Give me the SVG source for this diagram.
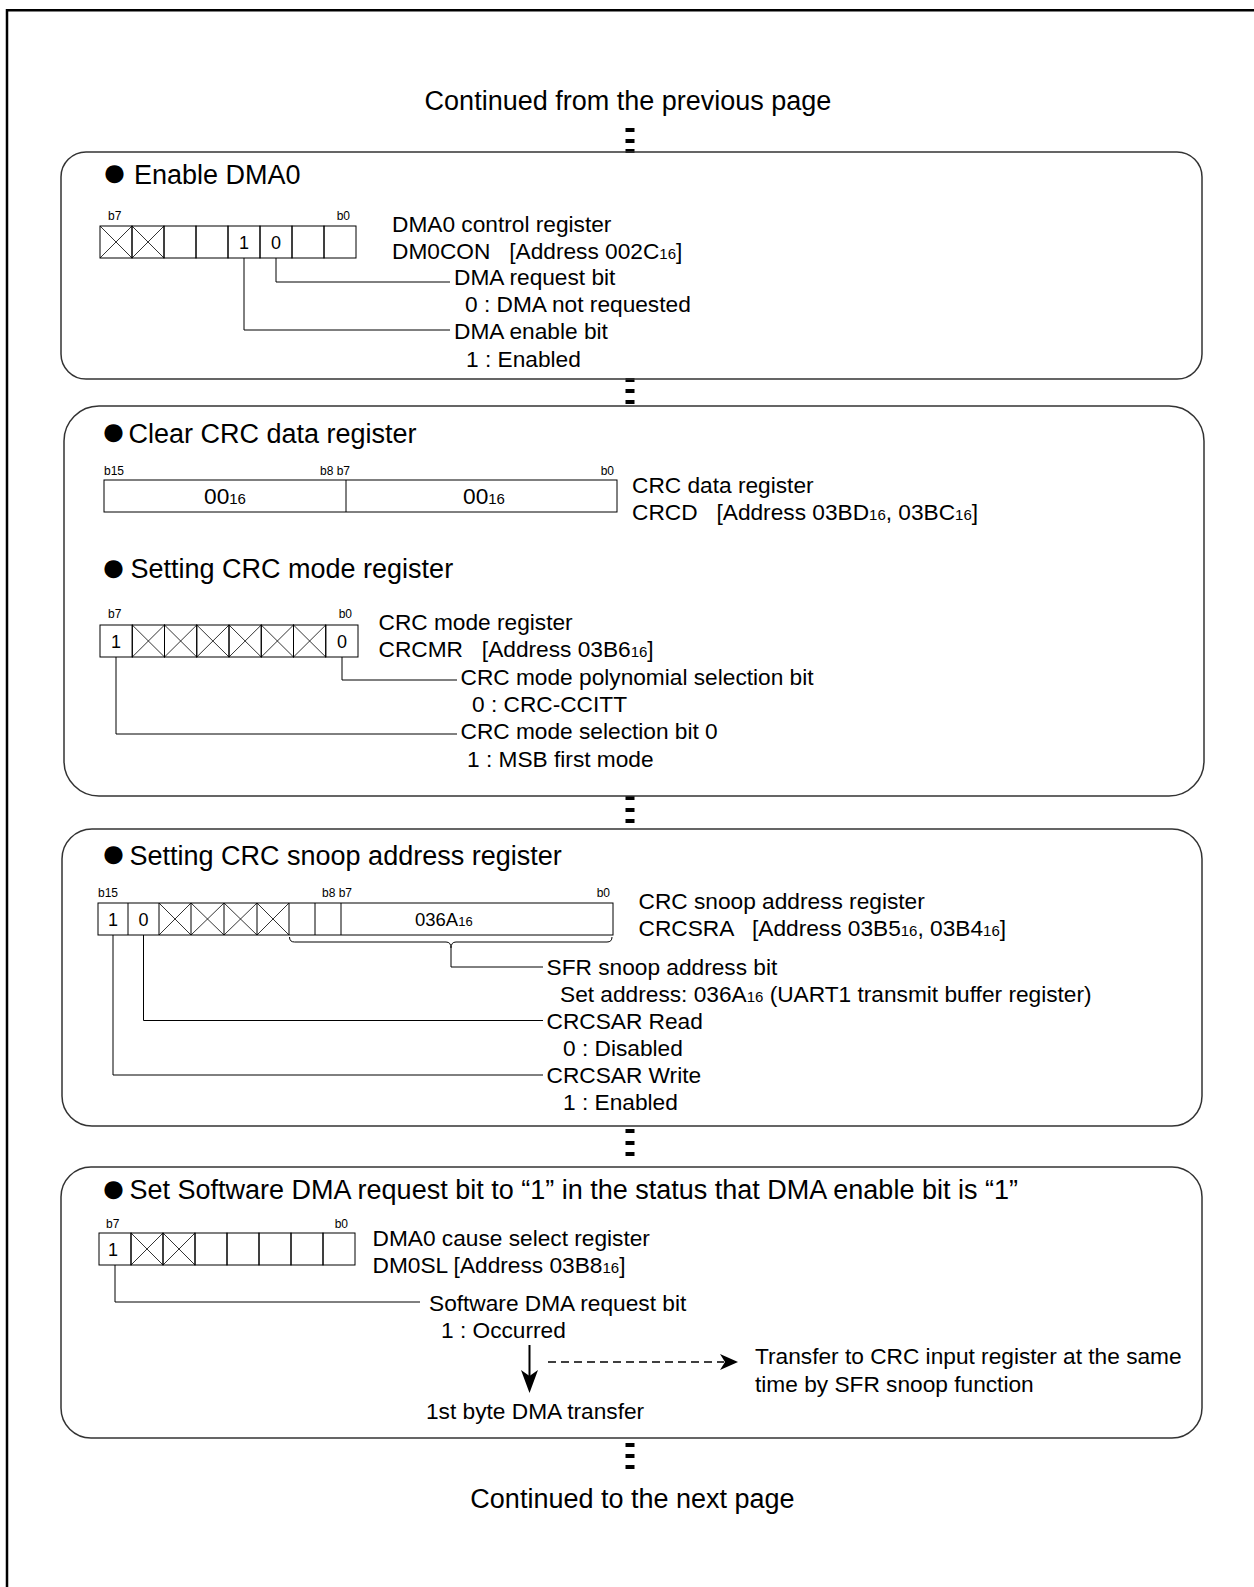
<svg xmlns="http://www.w3.org/2000/svg" width="1254" height="1587" viewBox="0 0 1254 1587">
<style>
text { font-family: "Liberation Sans", Arial, sans-serif; fill: #000; }
.h { font-size: 27px; }
.bul { font-size: 42px; }
.l { font-size: 22.7px; }
.sb { font-size: 15px; }
.b { font-size: 12px; }
.d { font-size: 18px; }
.box { fill: none; stroke: #333; stroke-width: 1.5; }
.cell { fill: none; stroke: #000; stroke-width: 1; }
.x { stroke: #000; stroke-width: 0.8; }
.ln { fill: none; stroke: #000; stroke-width: 1; }
.dot { fill: #000; }
</style>

<path d="M7,1620 V10.3 H1280" fill="none" stroke="#000" stroke-width="2.5"/>

<g id="title">
<text class="h" x="628" y="110" text-anchor="middle">Continued from the previous page</text>
</g>

<g id="connectors">
<rect class="dot" x="625.5" y="128" width="9" height="4"/>
<rect class="dot" x="625.5" y="139" width="9" height="4"/>
<rect class="dot" x="625.5" y="149" width="9" height="4"/>
<rect class="dot" x="625.5" y="378" width="9" height="4"/>
<rect class="dot" x="625.5" y="389" width="9" height="4"/>
<rect class="dot" x="625.5" y="400" width="9" height="4"/>
<rect class="dot" x="625.5" y="796" width="9" height="4"/>
<rect class="dot" x="625.5" y="808" width="9" height="4"/>
<rect class="dot" x="625.5" y="819" width="9" height="4"/>
<rect class="dot" x="625.5" y="1129" width="9" height="4"/>
<rect class="dot" x="625.5" y="1141" width="9" height="4"/>
<rect class="dot" x="625.5" y="1152" width="9" height="4"/>
<rect class="dot" x="625.5" y="1443" width="9" height="4"/>
<rect class="dot" x="625.5" y="1454" width="9" height="4"/>
<rect class="dot" x="625.5" y="1465" width="9" height="4"/>
</g>

<g id="box1">
<rect class="box" x="61" y="152" width="1141" height="227" rx="25" ry="25"/>
<text class="bul" x="114.4" y="186.4" text-anchor="middle">●</text>
<text class="h" x="134" y="184">Enable DMA0</text>
<text class="b" x="108" y="220">b7</text>
<text class="b" x="350" y="220" text-anchor="end">b0</text>
<g>
<rect class="cell" x="100" y="226" width="32" height="32"/>
<rect class="cell" x="132" y="226" width="32" height="32"/>
<rect class="cell" x="164" y="226" width="32" height="32"/>
<rect class="cell" x="196" y="226" width="32" height="32"/>
<rect class="cell" x="228" y="226" width="32" height="32"/>
<rect class="cell" x="260" y="226" width="32" height="32"/>
<rect class="cell" x="292" y="226" width="32" height="32"/>
<rect class="cell" x="324" y="226" width="32" height="32"/>
<path class="x" d="M100,226 L132,258 M100,258 L132,226 M132,226 L164,258 M132,258 L164,226"/>
<text class="d" x="244" y="248.5" text-anchor="middle">1</text>
<text class="d" x="276" y="248.5" text-anchor="middle">0</text>
</g>
<path class="ln" d="M276,258 V282 H450 M244,258 V330 H450"/>
<text class="l" x="392" y="232">DMA0 control register</text>
<text class="l" x="392" y="259" xml:space="preserve">DM0CON   [Address 002C<tspan class="sb">16</tspan>]</text>
<text class="l" x="454" y="285">DMA request bit</text>
<text class="l" x="465" y="312">0 : DMA not requested</text>
<text class="l" x="454" y="339">DMA enable bit</text>
<text class="l" x="466" y="367">1 : Enabled</text>
</g>

<g id="box2">
<rect class="box" x="64" y="406" width="1140" height="390" rx="35" ry="35"/>
<text class="bul" x="113.4" y="445.4" text-anchor="middle">●</text>
<text class="h" x="128.5" y="443">Clear CRC data register</text>
<text class="b" x="104" y="475">b15</text>
<text class="b" x="320" y="475">b8 b7</text>
<text class="b" x="614" y="475" text-anchor="end">b0</text>
<rect class="cell" x="104" y="480" width="513" height="32"/>
<line class="ln" x1="346" y1="480" x2="346" y2="512"/>
<text class="l" x="225" y="504" text-anchor="middle">00<tspan class="sb">16</tspan></text>
<text class="l" x="484" y="504" text-anchor="middle">00<tspan class="sb">16</tspan></text>
<text class="l" x="632" y="493">CRC data register</text>
<text class="l" x="632" y="520" xml:space="preserve">CRCD   [Address 03BD<tspan class="sb">16</tspan>, 03BC<tspan class="sb">16</tspan>]</text>

<text class="bul" x="113.4" y="581.4" text-anchor="middle">●</text>
<text class="h" x="130.5" y="578">Setting CRC mode register</text>
<text class="b" x="108" y="618">b7</text>
<text class="b" x="352" y="618" text-anchor="end">b0</text>
<rect class="cell" x="100" y="625" width="32.25" height="32"/>
<rect class="cell" x="132.25" y="625" width="32.25" height="32"/>
<rect class="cell" x="164.5" y="625" width="32.25" height="32"/>
<rect class="cell" x="196.75" y="625" width="32.25" height="32"/>
<rect class="cell" x="229" y="625" width="32.25" height="32"/>
<rect class="cell" x="261.25" y="625" width="32.25" height="32"/>
<rect class="cell" x="293.5" y="625" width="32.25" height="32"/>
<rect class="cell" x="325.75" y="625" width="32.25" height="32"/>
<path class="x" d="M132.25,625 L164.5,657 M132.25,657 L164.5,625 M164.5,625 L196.75,657 M164.5,657 L196.75,625 M196.75,625 L229,657 M196.75,657 L229,625 M229,625 L261.25,657 M229,657 L261.25,625 M261.25,625 L293.5,657 M261.25,657 L293.5,625 M293.5,625 L325.75,657 M293.5,657 L325.75,625"/>
<text class="d" x="116" y="647.5" text-anchor="middle">1</text>
<text class="d" x="342" y="647.5" text-anchor="middle">0</text>
<path class="ln" d="M342,657 V680 H457 M116,657 V734 H457"/>
<text class="l" x="378.5" y="630">CRC mode register</text>
<text class="l" x="378.5" y="657" xml:space="preserve">CRCMR   [Address 03B6<tspan class="sb">16</tspan>]</text>
<text class="l" x="460.5" y="685">CRC mode polynomial selection bit</text>
<text class="l" x="472" y="712">0 : CRC-CCITT</text>
<text class="l" x="460.5" y="739">CRC mode selection bit 0</text>
<text class="l" x="467" y="767">1 : MSB first mode</text>
</g>

<g id="box3">
<rect class="box" x="62" y="829" width="1140" height="297" rx="30" ry="30"/>
<text class="bul" x="113.4" y="867.4" text-anchor="middle">●</text>
<text class="h" x="129.5" y="865">Setting CRC snoop address register</text>
<text class="b" x="98" y="897">b15</text>
<text class="b" x="322" y="897">b8 b7</text>
<text class="b" x="610" y="897" text-anchor="end">b0</text>
<rect class="cell" x="98" y="903" width="515" height="32"/>
<path class="ln" d="M128,903 V935 M159,903 V935 M191,903 V935 M224,903 V935 M257,903 V935 M289,903 V935 M315,903 V935 M341,903 V935"/>
<path class="x" d="M159,903 L191,935 M159,935 L191,903 M191,903 L224,935 M191,935 L224,903 M224,903 L257,935 M224,935 L257,903 M257,903 L289,935 M257,935 L289,903"/>
<text class="d" x="113" y="925.5" text-anchor="middle">1</text>
<text class="d" x="143.5" y="925.5" text-anchor="middle">0</text>
<text x="415" y="926" style="font-size:18.5px">036A<tspan style="font-size:13px">16</tspan></text>
<path class="ln" d="M289.5,937 Q289.5,942 294.5,942 H446 Q451,942 451,948 Q451,942 456,942 H607 Q612,942 612,937"/>
<path class="ln" d="M451,948 V967 H543 M143.5,935 V1020.5 H543 M113,935 V1075 H543"/>
<text class="l" x="638.5" y="909">CRC snoop address register</text>
<text class="l" x="638.5" y="936" xml:space="preserve">CRCSRA   [Address 03B5<tspan class="sb">16</tspan>, 03B4<tspan class="sb">16</tspan>]</text>
<text class="l" x="546.5" y="975">SFR snoop address bit</text>
<text class="l" x="560" y="1002">Set address: 036A<tspan class="sb">16</tspan> (UART1 transmit buffer register)</text>
<text class="l" x="546.5" y="1029">CRCSAR Read</text>
<text class="l" x="563" y="1056">0 : Disabled</text>
<text class="l" x="546.5" y="1083">CRCSAR Write</text>
<text class="l" x="563" y="1110">1 : Enabled</text>
</g>

<g id="box4">
<rect class="box" x="61" y="1167" width="1141" height="271" rx="30" ry="30"/>
<text class="bul" x="113.4" y="1202.4" text-anchor="middle">●</text>
<text class="h" x="129.5" y="1199">Set Software DMA request bit to “1” in the status that DMA enable bit is “1”</text>
<text class="b" x="106" y="1228">b7</text>
<text class="b" x="348" y="1228" text-anchor="end">b0</text>
<rect class="cell" x="99" y="1233" width="32" height="32"/>
<rect class="cell" x="131" y="1233" width="32" height="32"/>
<rect class="cell" x="163" y="1233" width="32" height="32"/>
<rect class="cell" x="195" y="1233" width="32" height="32"/>
<rect class="cell" x="227" y="1233" width="32" height="32"/>
<rect class="cell" x="259" y="1233" width="32" height="32"/>
<rect class="cell" x="291" y="1233" width="32" height="32"/>
<rect class="cell" x="323" y="1233" width="32" height="32"/>
<path class="x" d="M131,1233 L163,1265 M131,1265 L163,1233 M163,1233 L195,1265 M163,1265 L195,1233"/>
<text class="d" x="113" y="1255.5" text-anchor="middle">1</text>
<path class="ln" d="M115,1265 V1302 H420"/>
<text class="l" x="372.5" y="1246">DMA0 cause select register</text>
<text class="l" x="372.5" y="1273">DM0SL [Address 03B8<tspan class="sb">16</tspan>]</text>
<text class="l" x="429" y="1311">Software DMA request bit</text>
<text class="l" x="441" y="1338">1 : Occurred</text>
<path d="M529.5,1345 V1376" fill="none" stroke="#000" stroke-width="2"/>
<path d="M521,1370 L529.5,1393 L538,1370 L529.5,1376 Z" fill="#000"/>
<path d="M548,1362 H724" fill="none" stroke="#000" stroke-width="1.6" stroke-dasharray="8,5"/>
<path d="M720,1354 L738,1362 L720,1370 L725,1362 Z" fill="#000"/>
<text class="l" x="755" y="1364">Transfer to CRC input register at the same</text>
<text class="l" x="755" y="1392">time by SFR snoop function</text>
<text class="l" x="426" y="1419">1st byte DMA transfer</text>
</g>

<g id="footer">
<text class="h" x="632.5" y="1508" text-anchor="middle">Continued to the next page</text>
</g>
</svg>
